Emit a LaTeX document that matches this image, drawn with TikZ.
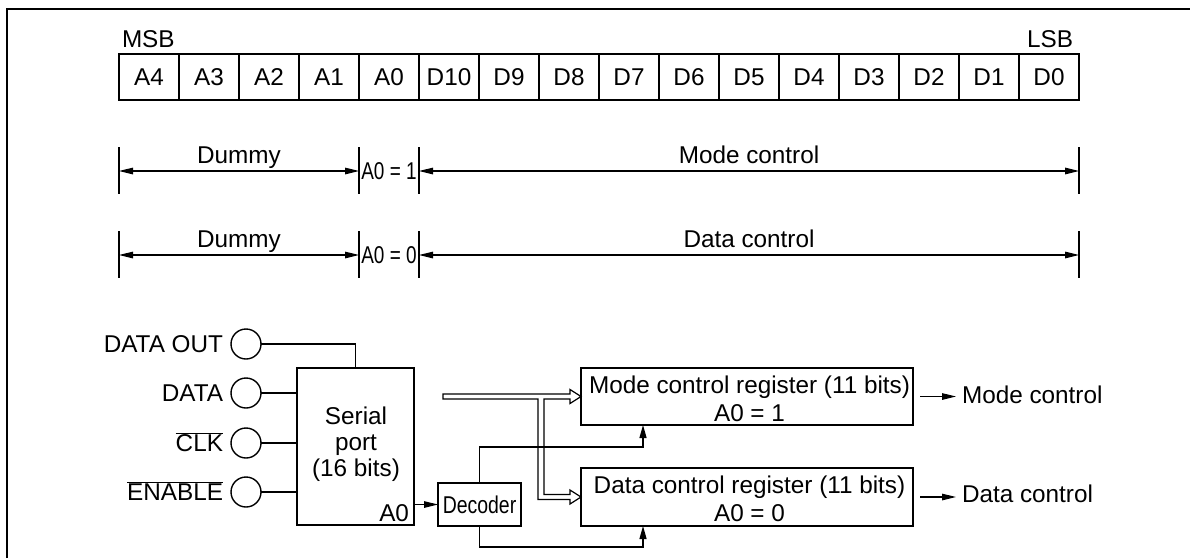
\documentclass[tikz,border=0pt]{standalone}
\usepackage{fontspec}
\setmainfont{Liberation Sans}
\usetikzlibrary{arrows.meta,calc}
\begin{document}
\begin{tikzpicture}[x=1pt,y=-1pt,
  every node/.style={font=\fontsize{24.3}{26}\selectfont, inner sep=0pt, outer sep=0pt},
  box/.style={draw, line width=1.6pt},
  cellbox/.style={box, minimum width=60pt, minimum height=46pt},
  wire/.style={line width=1.3pt},
  pin/.style={draw, circle, line width=1.4pt, minimum size=30pt},
  tipS/.style={-{Triangle[length=14pt,width=6.5pt]}},
  tipU/.style={-{Triangle[length=13pt,width=7pt]}},
  dimline/.style={line width=1.3pt, {Triangle[length=14pt,width=6.5pt]}-{Triangle[length=14pt,width=6.5pt]}},
  tick/.style={line width=1.4pt},
  lbl/.style={anchor=base}
]
\useasboundingbox (0,0) rectangle (1190,558);
% frame
\draw[line width=1.8pt] (7,558) -- (7,9) -- (1190,9);

% register row
\foreach \t [count=\i from 0] in {A4,A3,A2,A1,A0,D10,D9,D8,D7,D6,D5,D4,D3,D2,D1,D0}
  \node[cellbox] (c\i) at ({149+60*\i},77) {\t};
\node[anchor=base west] (msb) at (122,47) {MSB};
\node[anchor=base east] (lsb) at (1073,47) {LSB};

% dimension rows
\foreach \r/\yy/\val/\name in {1/171/1/Mode control, 2/255/0/Data control}{
  \coordinate (a\r) at (119,\yy);
  \coordinate (b\r) at (359,\yy);
  \coordinate (d\r) at (419,\yy);
  \coordinate (e\r) at (1079,\yy);
  \foreach \p in {a,b,d,e}
    \draw[tick] ($(\p\r)+(0,-24)$) -- ($(\p\r)+(0,23)$);
  \draw[dimline] (a\r) -- (b\r);
  \draw[dimline] (d\r) -- (e\r);
  \node[lbl] at (239,{\yy-8}) {Dummy};
  \node[lbl] at (389,{\yy+8.5}) {\scalebox{0.78}[1]{A0 = \val}};
  \node[lbl] at (749,{\yy-8}) {\name};
}

% pins
\node[pin] (dout) at (246,344) {};
\node[pin] (din)  at (246,393) {};
\node[pin] (clk)  at (246,443) {};
\node[pin] (en)   at (246,492) {};
\node[anchor=base east] at (223,352.5) {DATA OUT};
\node[anchor=base east] at (223,401.5) {DATA};
\node[anchor=base east] at (223,451.5) {$\overline{\mbox{CLK}}$};
\node[anchor=base east] at (223,500.5) {$\overline{\mbox{ENABLE}}$};

% serial port
\node[box, minimum width=117pt, minimum height=157pt] (sp) at (355.5,446.5) {};
\node[lbl] at (356,424) {Serial};
\node[lbl] at (356,450) {port};
\node[lbl] at (356,476) {(16 bits)};
\node[anchor=base east] at (409,521) {A0};

\draw[wire] (dout.east) -| (sp.north);
\draw[wire] (din.east) -- (din.east -| sp.west);
\draw[wire] (clk.east) -- (clk.east -| sp.west);
\draw[wire] (en.east) -- (en.east -| sp.west);

% decoder
\node[box, minimum width=83pt, minimum height=43pt] (dec) at (479.5,504.5) {\scalebox{0.8}[1]{Decoder}};
\draw[wire, tipS] (sp.east |- dec.west) -- (dec.west);

% registers
\node[box, minimum width=332pt, minimum height=57pt] (mr) at (747,396.5) {};
\node[lbl] at (749.5,393) {Mode control register (11 bits)};
\node[lbl] at (749.5,421) {A0 = 1};
\node[box, minimum width=332pt, minimum height=58pt] (dr) at (747,497) {};
\node[lbl] at (749.5,493) {Data control register (11 bits)};
\node[lbl] at (749.5,521) {A0 = 0};

% decoder select lines
\draw[wire, tipU] (dec.north) |- ($(mr.south west)+(62,22)$) -- ($(mr.south west)+(62,0)$);
\draw[wire, tipU] (dec.south) |- ($(dr.south west)+(62,21)$) -- ($(dr.south west)+(62,0)$);

% hollow bus arrow
\draw[line width=1.2pt, line join=miter]
  (443,394) -- (570,394) -- (570,389.5) -- (mr.west) -- (570,403.5) -- (570,399)
  -- (544,399) -- (544,494.5) -- (570,494.5) -- (570,490) -- (dr.west) -- (570,504) -- (570,499.5)
  -- (538,499.5) -- (538,399) -- (443,399) -- cycle;

% outputs
\node[anchor=base west] (mo) at (962,403) {Mode control};
\node[anchor=base west] (do) at (962,502) {Data control};
\draw[wire, tipS] ($(mr.east)+(7,0)$) -- ($(mr.east -| mo.west)+(-6,0)$);
\draw[wire, tipS] ($(dr.east)+(7,0)$) -- ($(dr.east -| do.west)+(-6,0)$);
\end{tikzpicture}
\end{document}
